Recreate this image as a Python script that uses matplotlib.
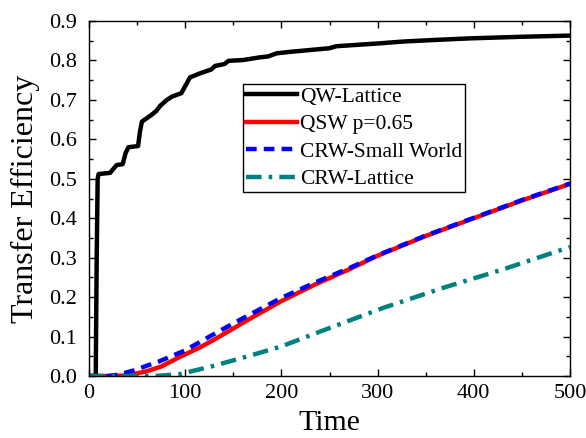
import matplotlib
matplotlib.use("Agg")
import matplotlib.pyplot as plt
from matplotlib.ticker import MultipleLocator, FormatStrFormatter

plt.rcParams['font.family'] = ['Liberation Serif', 'DejaVu Serif']
plt.rcParams['mathtext.fontset'] = 'stix'

# QW-Lattice
t_qw = [0, 7, 8, 9, 10, 22, 27, 29, 35, 38, 41, 51, 53, 55, 58, 65, 70, 74, 81, 86,
        96, 100, 105, 115, 127, 131, 141, 145, 160, 178, 186, 195, 210, 250, 257,
        300, 327, 360, 396, 450, 500]
v_qw = [0, 0, 0.30, 0.50, 0.512, 0.515, 0.530, 0.535, 0.537, 0.565, 0.580, 0.583,
        0.620, 0.645, 0.650, 0.662, 0.672, 0.685, 0.700, 0.708, 0.717, 0.735, 0.757,
        0.767, 0.777, 0.786, 0.791, 0.799, 0.801, 0.808, 0.810, 0.818, 0.822, 0.831,
        0.836, 0.843, 0.848, 0.852, 0.856, 0.860, 0.863]

# QSW p=0.65
t_qsw = [0, 20, 35, 45, 60, 75, 95, 115, 130, 165, 200, 235, 270, 300, 350, 400, 450, 500]
v_qsw = [0, 0, 0.001, 0.004, 0.012, 0.024, 0.049, 0.072, 0.092, 0.142, 0.190, 0.232,
         0.270, 0.305, 0.355, 0.400, 0.445, 0.487]

# CRW-Small World
t_crw_sw = [0, 20, 30, 48, 60, 72, 100, 134, 165, 200, 235, 270, 300, 350, 400, 450, 500]
v_crw_sw = [0, 0, 0.003, 0.015, 0.026, 0.036, 0.065, 0.112, 0.153, 0.198, 0.237, 0.273,
            0.306, 0.356, 0.401, 0.446, 0.488]

# CRW-Lattice
t_crw_l = [0, 60, 75, 95, 130, 165, 200, 245, 305, 370, 430, 500]
v_crw_l = [0, 0, 0.001, 0.005, 0.026, 0.050, 0.075, 0.117, 0.172, 0.225, 0.270, 0.327]

labels = ['QW-Lattice', 'QSW p=0.65', 'CRW-Small World', 'CRW-Lattice']

fig = plt.figure(figsize=(5.86, 4.38), dpi=100)
ax = fig.add_axes([89/586, 1-376/438, (570-89)/586, (376-21)/438])

ax.plot(t_qw, v_qw, color='black', lw=3.2, label=labels[0])
ax.plot(t_qsw, v_qsw, color='#FF0000', lw=3.2, label=labels[1])
ax.plot(t_crw_sw, v_crw_sw, color='#0000FF', lw=3.2, dashes=(2.4, 1.6), label=labels[2])
ax.plot(t_crw_l, v_crw_l, color='#008080', lw=3.2, dashes=(3.5, 1.6, 0.8, 1.6), label=labels[3])

ax.set_xlim(0, 500)
ax.set_ylim(0, 0.9)
ax.xaxis.set_major_locator(MultipleLocator(100))
ax.xaxis.set_minor_locator(MultipleLocator(50))
ax.yaxis.set_major_locator(MultipleLocator(0.1))
ax.yaxis.set_minor_locator(MultipleLocator(0.05))
ax.yaxis.set_major_formatter(FormatStrFormatter('%.1f'))

ax.tick_params(which='both', direction='in', top=True, right=True, labelsize=16, width=1)
ax.tick_params(which='major', length=5)
ax.tick_params(which='minor', length=3)
ax.tick_params(axis='x', which='major', pad=6)
ax.tick_params(axis='y', which='major', pad=9)
for s in ax.spines.values():
    s.set_linewidth(1)

ax.set_xlabel('Time', fontsize=21.5, labelpad=5)
ax.set_ylabel('Transfer Efficiency', fontsize=23, labelpad=6)

leg = ax.legend(loc='upper left', bbox_to_anchor=((243-89)/481, (376-84)/355), borderaxespad=0,
                fontsize=15.5, handlelength=2.4, handletextpad=0.15, labelspacing=0.35,
                borderpad=0.12, fancybox=False, frameon=True, framealpha=1)
leg.get_frame().set_edgecolor('black')
leg.get_frame().set_linewidth(1)

fig.savefig('out.png', dpi=100)
